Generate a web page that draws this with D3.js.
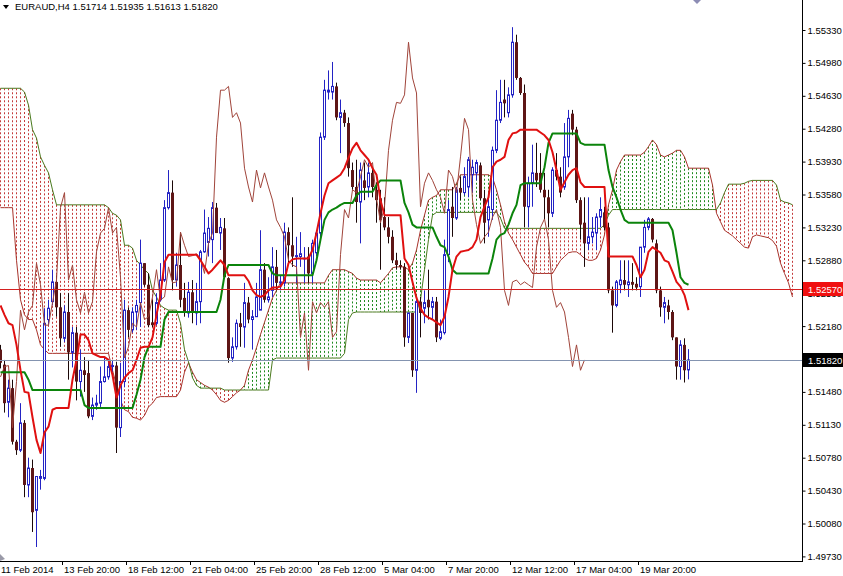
<!DOCTYPE html>
<html><head><meta charset="utf-8">
<script src="https://cdn.jsdelivr.net/npm/d3@7"></script>
<style>
html,body{margin:0;padding:0;background:#fff;}
svg{display:block;}
text{font-family:"Liberation Sans",Arial,sans-serif;}
</style></head><body>
<svg id="c" width="843" height="576"></svg>
<script>
// ---------------- DATA ----------------
const symbolName = "EURAUD,H4";
const lastQuote = [1.51714, 1.51935, 1.51613, 1.51820];

const opens = [1.5193,1.5177,1.5137,1.5152,1.5095,1.5086,1.5115,1.5049,1.5067,1.5022,
1.5056,1.5056,1.5225,1.5244,1.5265,1.5238,1.5205,1.5233,1.5190,1.5211,
1.5159,1.5171,1.5168,1.5122,1.5134,1.5136,1.5159,1.5164,1.5175,1.5176,
1.5110,1.5159,1.5235,1.5214,1.5233,1.5243,1.5285,1.5262,1.5222,1.5221,
1.5246,1.5267,1.5344,1.5360,1.5267,1.5283,1.5248,1.5232,1.5254,1.5232,
1.5244,1.5297,1.5307,1.5310,1.5344,1.5317,1.5322,1.5269,1.5184,1.5196,
1.5221,1.5217,1.5243,1.5225,1.5228,1.5235,1.5278,1.5246,1.5256,1.5281,
1.5264,1.5264,1.5318,1.5304,1.5292,1.5292,1.5290,1.5292,1.5274,1.5296,
1.5317,1.5419,1.5467,1.5467,1.5473,1.5440,1.5445,1.5434,1.5384,1.5366,
1.5350,1.5373,1.5366,1.5381,1.5363,1.5354,1.5334,1.5323,1.5313,1.5288,
1.5283,1.5281,1.5206,1.5232,1.5171,1.5244,1.5237,1.5246,1.5238,1.5244,
1.5205,1.5211,1.5294,1.5345,1.5333,1.5365,1.5360,1.5366,1.5379,1.5381,
1.5389,1.5354,1.5331,1.5342,1.5405,1.5437,1.5459,1.5445,1.5464,1.5520,
1.5482,1.5466,1.5345,1.5370,1.5381,1.5381,1.5363,1.5355,1.5338,1.5384,
1.5377,1.5366,1.5398,1.5444,1.5427,1.5352,1.5328,1.5306,1.5313,1.5317,
1.5334,1.5339,1.5323,1.5256,1.5240,1.5262,1.5267,1.5262,1.5265,1.5263,
1.5260,1.5302,1.5323,1.5332,1.5306,1.5256,1.5238,1.5240,1.5233,1.5206,
1.5175,1.5198,1.51714];

const highs = [1.5198,1.5182,1.5161,1.5161,1.5097,1.5136,1.5118,1.5078,1.5076,1.5058,
1.5065,1.5237,1.5246,1.5278,1.5272,1.5253,1.5240,1.5253,1.5217,1.5217,
1.5193,1.5185,1.5182,1.5142,1.5145,1.5175,1.5185,1.5182,1.5182,1.5180,
1.5179,1.5246,1.5238,1.5238,1.5246,1.5310,1.5285,1.5274,1.5246,1.5253,
1.5285,1.5352,1.5384,1.5373,1.5296,1.5318,1.5264,1.5265,1.5267,1.5264,
1.5299,1.5342,1.5334,1.5350,1.5349,1.5333,1.5333,1.5270,1.5206,1.5225,
1.5232,1.5264,1.5249,1.5235,1.5264,1.5320,1.5285,1.5270,1.5302,1.5299,
1.5272,1.5328,1.5323,1.5355,1.5313,1.5318,1.5302,1.5302,1.5310,1.5320,
1.5424,1.5480,1.5490,1.5499,1.5477,1.5459,1.5448,1.5440,1.5392,1.5395,
1.5392,1.5392,1.5392,1.5387,1.5371,1.5363,1.5355,1.5334,1.5320,1.5296,
1.5288,1.5285,1.5232,1.5232,1.5246,1.5249,1.5256,1.5278,1.5249,1.5249,
1.5225,1.5310,1.5352,1.5366,1.5366,1.5377,1.5387,1.5398,1.5395,1.5395,
1.5392,1.5363,1.5360,1.5409,1.5469,1.5480,1.5480,1.5472,1.5536,1.5528,
1.5483,1.5475,1.5377,1.5411,1.5413,1.5402,1.5381,1.5363,1.5387,1.5402,
1.5387,1.5434,1.5448,1.5448,1.5430,1.5355,1.5355,1.5355,1.5334,1.5338,
1.5355,1.5345,1.5328,1.5260,1.5267,1.5288,1.5288,1.5288,1.5285,1.5270,
1.5302,1.5331,1.5334,1.5333,1.5310,1.5260,1.5249,1.5246,1.5235,1.5206,
1.5203,1.5205,1.51935];

const lows = [1.5173,1.5126,1.5121,1.5092,1.5081,1.5084,1.5036,1.5036,1.4999,1.4983,
1.5044,1.5054,1.5219,1.5240,1.5228,1.5196,1.5201,1.5161,1.5174,1.5139,
1.5143,1.5148,1.5120,1.5118,1.5129,1.5132,1.5158,1.5161,1.5169,1.5083,
1.5100,1.5153,1.5206,1.5211,1.5214,1.5217,1.5260,1.5217,1.5217,1.5219,
1.5244,1.5265,1.5342,1.5256,1.5260,1.5238,1.5228,1.5227,1.5221,1.5219,
1.5221,1.5296,1.5292,1.5285,1.5317,1.5299,1.5269,1.5179,1.5180,1.5193,
1.5196,1.5195,1.5221,1.5193,1.5228,1.5235,1.5243,1.5243,1.5249,1.5256,
1.5256,1.5260,1.5285,1.5281,1.5264,1.5281,1.5264,1.5264,1.5264,1.5292,
1.5310,1.5416,1.5459,1.5459,1.5437,1.5402,1.5430,1.5377,1.5363,1.5328,
1.5306,1.5352,1.5355,1.5355,1.5328,1.5278,1.5320,1.5306,1.5285,1.5278,
1.5278,1.5196,1.5200,1.5164,1.5147,1.5206,1.5221,1.5225,1.5225,1.5201,
1.5203,1.5209,1.5286,1.5313,1.5331,1.5352,1.5357,1.5355,1.5360,1.5373,
1.5352,1.5306,1.5313,1.5331,1.5402,1.5434,1.5440,1.5440,1.5461,1.5480,
1.5464,1.5323,1.5323,1.5345,1.5366,1.5360,1.5331,1.5323,1.5334,1.5373,
1.5355,1.5363,1.5387,1.5421,1.5349,1.5310,1.5281,1.5299,1.5306,1.5299,
1.5323,1.5320,1.5253,1.5211,1.5238,1.5253,1.5256,1.5249,1.5256,1.5256,
1.5249,1.5296,1.5320,1.5307,1.5253,1.5228,1.5221,1.5225,1.5203,1.5161,
1.5161,1.5158,1.51613];

const closes = [1.5179,1.5136,1.5152,1.5095,1.5086,1.5115,1.5049,1.5067,1.5020,1.5058,
1.5058,1.5221,1.5237,1.5265,1.5238,1.5205,1.5233,1.5190,1.5211,1.5159,
1.5171,1.5166,1.5122,1.5134,1.5136,1.5159,1.5164,1.5175,1.5176,1.5110,
1.5159,1.5235,1.5214,1.5233,1.5240,1.5285,1.5262,1.5219,1.5219,1.5243,
1.5267,1.5344,1.5360,1.5267,1.5283,1.5246,1.5232,1.5254,1.5232,1.5244,
1.5297,1.5317,1.5322,1.5344,1.5317,1.5323,1.5270,1.5184,1.5196,1.5221,
1.5217,1.5243,1.5225,1.5228,1.5249,1.5278,1.5246,1.5249,1.5281,1.5264,
1.5265,1.5318,1.5304,1.5292,1.5293,1.5295,1.5290,1.5274,1.5306,1.5317,
1.5419,1.5469,1.5469,1.5473,1.5440,1.5445,1.5434,1.5386,1.5366,1.5350,
1.5384,1.5365,1.5381,1.5366,1.5352,1.5331,1.5323,1.5313,1.5288,1.5283,
1.5281,1.5206,1.5232,1.5171,1.5244,1.5232,1.5243,1.5238,1.5244,1.5206,
1.5212,1.5294,1.5342,1.5333,1.5363,1.5360,1.5377,1.5395,1.5387,1.5392,
1.5354,1.5328,1.5345,1.5405,1.5437,1.5456,1.5455,1.5464,1.5520,1.5482,
1.5466,1.5345,1.5370,1.5381,1.5373,1.5363,1.5355,1.5338,1.5384,1.5377,
1.5360,1.5398,1.5439,1.5427,1.5352,1.5326,1.5306,1.5313,1.5318,1.5334,
1.5342,1.5323,1.5256,1.5240,1.5265,1.5267,1.5262,1.5265,1.5262,1.5259,
1.5302,1.5323,1.5332,1.5310,1.5256,1.5238,1.5243,1.5233,1.5206,1.5175,
1.5198,1.5171,1.5182];

// Ichimoku Tenkan-sen (red) per bar
const tenkan = [1.5240,1.5230,1.5221,1.5219,1.5198,1.5171,1.5148,1.5147,1.5121,1.5097,
1.5083,1.5105,1.5111,1.5129,1.5131,1.5131,1.5131,1.5131,1.5161,1.5182,
1.5209,1.5209,1.5203,1.5189,1.5187,1.5185,1.5185,1.5182,1.5166,1.5142,
1.5155,1.5163,1.5168,1.5171,1.5182,1.5195,1.5196,1.5196,1.5206,1.5230,
1.5251,1.5286,1.5294,1.5294,1.5294,1.5294,1.5294,1.5294,1.5294,1.5294,
1.5288,1.5281,1.5274,1.5278,1.5283,1.5288,1.5283,1.5272,1.5272,1.5272,
1.5272,1.5272,1.5266,1.5256,1.5251,1.5249,1.5251,1.5256,1.5259,1.5259,
1.5260,1.5267,1.5285,1.5289,1.5290,1.5290,1.5290,1.5290,1.5299,1.5317,
1.5338,1.5357,1.5370,1.5373,1.5376,1.5379,1.5386,1.5397,1.5407,1.5413,
1.5405,1.5400,1.5395,1.5386,1.5379,1.5352,1.5336,1.5336,1.5336,1.5336,
1.5336,1.5290,1.5283,1.5265,1.5248,1.5237,1.5230,1.5227,1.5225,1.5222,
1.5219,1.5228,1.5249,1.5278,1.5292,1.5297,1.5298,1.5299,1.5302,1.5310,
1.5334,1.5345,1.5355,1.5387,1.5393,1.5395,1.5398,1.5416,1.5423,1.5424,
1.5427,1.5427,1.5427,1.5427,1.5427,1.5424,1.5421,1.5416,1.5403,1.5384,
1.5363,1.5371,1.5379,1.5384,1.5386,1.5371,1.5366,1.5366,1.5366,1.5366,
1.5366,1.5366,1.5292,1.5292,1.5292,1.5292,1.5292,1.5292,1.5292,1.5283,
1.5270,1.5278,1.5297,1.5302,1.5299,1.5296,1.5288,1.5286,1.5276,1.5265,
1.5260,1.5251,1.5235];

// Ichimoku Kijun-sen (green) per bar
const kijun = [1.5169,1.5169,1.5169,1.5169,1.5169,1.5169,1.5169,1.5161,1.5150,1.5150,
1.5150,1.5150,1.5150,1.5150,1.5150,1.5150,1.5150,1.5150,1.5150,1.5150,
1.5150,1.5134,1.5131,1.5131,1.5131,1.5131,1.5131,1.5131,1.5131,1.5131,
1.5131,1.5131,1.5131,1.5131,1.5145,1.5161,1.5185,1.5196,1.5196,1.5196,
1.5196,1.5225,1.5233,1.5233,1.5233,1.5233,1.5233,1.5233,1.5233,1.5233,
1.5233,1.5233,1.5233,1.5233,1.5233,1.5246,1.5272,1.5283,1.5283,1.5283,
1.5283,1.5283,1.5283,1.5283,1.5283,1.5283,1.5283,1.5283,1.5274,1.5272,
1.5272,1.5272,1.5272,1.5272,1.5272,1.5272,1.5272,1.5272,1.5272,1.5288,
1.5310,1.5331,1.5339,1.5342,1.5344,1.5347,1.5349,1.5349,1.5349,1.5357,
1.5361,1.5361,1.5361,1.5361,1.5368,1.5373,1.5373,1.5373,1.5373,1.5373,
1.5373,1.5349,1.5339,1.5326,1.5323,1.5323,1.5323,1.5323,1.5323,1.5313,
1.5304,1.5302,1.5292,1.5278,1.5274,1.5274,1.5274,1.5274,1.5274,1.5274,
1.5274,1.5274,1.5274,1.5290,1.5310,1.5315,1.5317,1.5326,1.5338,1.5347,
1.5368,1.5370,1.5370,1.5370,1.5370,1.5370,1.5387,1.5413,1.5423,1.5423,
1.5423,1.5423,1.5423,1.5423,1.5423,1.5413,1.5411,1.5411,1.5411,1.5411,
1.5411,1.5411,1.5384,1.5366,1.5355,1.5342,1.5331,1.5328,1.5328,1.5328,
1.5328,1.5328,1.5328,1.5328,1.5328,1.5328,1.5328,1.5328,1.5320,1.5296,
1.5270,1.5264,1.5262];

// Senkou Span A (red-brown line), plotted 26 bars ahead (bars 0..198)
const senkouA = [1.5344,1.5344,1.5344,1.5344,1.5288,1.5246,1.5230,1.5225,1.5225,1.5214,
1.5198,1.5193,1.5189,1.5189,1.5189,1.5189,1.5189,1.5189,1.5189,1.5189,
1.5189,1.5189,1.5189,1.5189,1.5189,1.5189,1.5189,1.5189,1.5171,1.5155,
1.5139,1.5129,1.5127,1.5121,1.5120,1.5118,1.5123,1.5132,1.5136,1.5142,
1.5143,1.5143,1.5143,1.5143,1.5143,1.5150,1.5169,1.5179,1.5169,1.5161,
1.5158,1.5155,1.5153,1.5150,1.5145,1.5139,1.5137,1.5139,1.5143,1.5147,
1.5150,1.5155,1.5171,1.5182,1.5195,1.5209,1.5222,1.5235,1.5248,1.5256,
1.5264,1.5264,1.5264,1.5264,1.5264,1.5264,1.5264,1.5264,1.5264,1.5264,
1.5264,1.5264,1.5272,1.5278,1.5278,1.5278,1.5278,1.5276,1.5274,1.5269,
1.5267,1.5267,1.5267,1.5267,1.5267,1.5264,1.5269,1.5274,1.5280,1.5281,
1.5281,1.5281,1.5278,1.5285,1.5299,1.5320,1.5336,1.5352,1.5355,1.5357,
1.5363,1.5363,1.5363,1.5363,1.5370,1.5379,1.5379,1.5379,1.5379,1.5379,
1.5379,1.5379,1.5379,1.5376,1.5363,1.5347,1.5329,1.5317,1.5310,1.5302,
1.5294,1.5286,1.5281,1.5274,1.5274,1.5274,1.5274,1.5274,1.5274,1.5281,
1.5288,1.5292,1.5296,1.5297,1.5297,1.5294,1.5290,1.5288,1.5288,1.5290,
1.5299,1.5315,1.5347,1.5363,1.5384,1.5393,1.5400,1.5400,1.5400,1.5400,
1.5400,1.5403,1.5409,1.5416,1.5411,1.5400,1.5398,1.5400,1.5402,1.5405,
1.5405,1.5398,1.5386,1.5386,1.5386,1.5386,1.5386,1.5386,1.5368,1.5338,
1.5329,1.5320,1.5317,1.5314,1.5310,1.5306,1.5302,1.5301,1.5313,1.5315,
1.5314,1.5313,1.5312,1.5309,1.5303,1.5285,1.5274,1.5264,1.5249];

// Senkou Span B (green line), plotted 26 bars ahead (bars 0..198)
const senkouB = [1.5471,1.5471,1.5471,1.5471,1.5471,1.5471,1.5467,1.5453,1.5427,1.5418,
1.5398,1.5389,1.5381,1.5363,1.5347,1.5347,1.5347,1.5347,1.5347,1.5347,
1.5347,1.5347,1.5347,1.5347,1.5347,1.5347,1.5347,1.5344,1.5338,1.5336,
1.5331,1.5304,1.5304,1.5301,1.5288,1.5283,1.5278,1.5274,1.5256,1.5249,
1.5240,1.5237,1.5235,1.5235,1.5235,1.5221,1.5193,1.5180,1.5163,1.5155,
1.5152,1.5152,1.5152,1.5152,1.5152,1.5152,1.5150,1.5150,1.5150,1.5150,
1.5150,1.5150,1.5150,1.5150,1.5150,1.5150,1.5150,1.5150,1.5182,1.5184,
1.5184,1.5184,1.5184,1.5184,1.5184,1.5184,1.5184,1.5184,1.5184,1.5184,
1.5184,1.5184,1.5184,1.5184,1.5184,1.5184,1.5189,1.5225,1.5232,1.5233,
1.5233,1.5233,1.5233,1.5233,1.5233,1.5233,1.5233,1.5233,1.5233,1.5233,
1.5233,1.5233,1.5233,1.5233,1.5233,1.5246,1.5278,1.5310,1.5336,1.5339,
1.5339,1.5339,1.5339,1.5339,1.5339,1.5339,1.5339,1.5339,1.5339,1.5339,
1.5339,1.5339,1.5339,1.5339,1.5339,1.5333,1.5322,1.5322,1.5322,1.5322,
1.5322,1.5322,1.5322,1.5322,1.5322,1.5322,1.5322,1.5322,1.5322,1.5322,
1.5322,1.5322,1.5322,1.5322,1.5322,1.5322,1.5322,1.5322,1.5322,1.5322,
1.5322,1.5326,1.5336,1.5342,1.5342,1.5342,1.5342,1.5342,1.5342,1.5342,
1.5342,1.5342,1.5342,1.5342,1.5342,1.5342,1.5342,1.5342,1.5342,1.5342,
1.5342,1.5342,1.5342,1.5342,1.5342,1.5342,1.5342,1.5342,1.5342,1.5342,
1.5349,1.5360,1.5369,1.5369,1.5369,1.5369,1.5370,1.5372,1.5373,1.5373,
1.5373,1.5373,1.5373,1.5373,1.5368,1.5352,1.5350,1.5349,1.5347];

const chikouShift = 26;
const priceTicks = [1.55330,1.54980,1.54630,1.54280,1.53930,1.53580,1.53230,1.52880,1.52530,
1.52180,1.51830,1.51480,1.51130,1.50780,1.50430,1.50080,1.49730];
const dateLabels = ["11 Feb 2014","13 Feb 20:00","18 Feb 12:00","21 Feb 04:00","25 Feb 20:00",
"28 Feb 12:00","5 Mar 04:00","7 Mar 20:00","12 Mar 12:00","17 Mar 04:00","19 Mar 20:00"];
const dateLabelBars = [0,16,32,48,64,80,96,112,128,144,160];
const levelLine = 1.52570;
const bidLine = 1.51820;

// ---------------- DRAW ----------------
const svg = d3.select("#c");
const plotRight = 802, plotBottom = 561;
const x = d3.scaleLinear().domain([0, 200]).range([0, 800]);
const y = d3.scaleLinear().domain([1.4973, 1.5533]).range([556.4, 30]);
const px = i => Math.round(x(i));

const C = {
  bullStroke: "#2323c4", bearFill: "#5e1616", bearWick: "#1b0808",
  tenkan: "#e01010", kijun: "#0b840b", chikou: "#a0443a",
  cloudRed: "#c43a3a", cloudGreen: "#1f8a1f", spanA: "#a8332b", spanB: "#4a7a1e"
};

const plot = svg.append("g");

// cloud (dotted histogram between span A and span B)
const cloudData = senkouA.map((a, i) => ({i, a, b: senkouB[i]}));
plot.append("g").selectAll("line").data(cloudData).join("line")
  .attr("x1", d => px(d.i) + 0.5).attr("x2", d => px(d.i) + 0.5)
  .attr("y1", d => y(Math.max(d.a, d.b))).attr("y2", d => y(Math.min(d.a, d.b)))
  .attr("stroke", d => d.a >= d.b ? C.cloudGreen : C.cloudRed)
  .attr("stroke-width", 1).attr("stroke-dasharray", "2,2");

// span lines
const spanLine = d3.line().x((d, i) => px(i) + 0.5).y(d => y(d));
plot.append("path").attr("d", spanLine(senkouA)).attr("fill", "none")
  .attr("stroke", C.spanA).attr("stroke-width", 1);
plot.append("path").attr("d", spanLine(senkouB)).attr("fill", "none")
  .attr("stroke", C.spanB).attr("stroke-width", 1);

// candles
const bars = opens.map((o, i) => ({i, o, h: highs[i], l: lows[i], c: closes[i]}));
const cg = plot.append("g");
bars.forEach(d => {
  const cx = px(d.i);
  const bull = d.c >= d.o;
  cg.append("line").attr("x1", cx + 0.5).attr("x2", cx + 0.5)
    .attr("y1", y(d.h)).attr("y2", y(d.l))
    .attr("stroke", bull ? C.bullStroke : C.bearWick).attr("stroke-width", 1);
  const top = y(Math.max(d.o, d.c)), bot = y(Math.min(d.o, d.c));
  if (bull) {
    cg.append("rect").attr("x", cx - 0.5).attr("y", top)
      .attr("width", 2).attr("height", Math.max(bot - top, 0.5))
      .attr("fill", "#fff").attr("stroke", C.bullStroke).attr("stroke-width", 1);
  } else {
    cg.append("rect").attr("x", cx - 1).attr("y", top)
      .attr("width", 3).attr("height", Math.max(bot - top, 1))
      .attr("fill", C.bearFill);
  }
});

// chikou span (closes shifted back)
const chikouLine = d3.line().x((d, k) => px(k) + 0.5).y(d => y(d));
plot.append("path").attr("d", chikouLine(closes.slice(chikouShift))).attr("fill", "none")
  .attr("stroke", C.chikou).attr("stroke-width", 1);

// tenkan / kijun
const thick = d3.line().x((d, i) => px(i) + 0.5).y(d => y(d));
plot.append("path").attr("d", thick(kijun)).attr("fill", "none")
  .attr("stroke", C.kijun).attr("stroke-width", 2).attr("stroke-linejoin", "round");
plot.append("path").attr("d", thick(tenkan)).attr("fill", "none")
  .attr("stroke", C.tenkan).attr("stroke-width", 2).attr("stroke-linejoin", "round");

// horizontal lines
svg.append("line").attr("x1", 0).attr("x2", plotRight)
  .attr("y1", Math.round(y(levelLine)) + 0.5).attr("y2", Math.round(y(levelLine)) + 0.5)
  .attr("stroke", "#d42020").attr("stroke-width", 1);
svg.append("line").attr("x1", 0).attr("x2", plotRight)
  .attr("y1", Math.round(y(bidLine)) + 0.5).attr("y2", Math.round(y(bidLine)) + 0.5)
  .attr("stroke", "#8494b0").attr("stroke-width", 1);

// axes frame
svg.append("line").attr("x1", plotRight + 0.5).attr("x2", plotRight + 0.5)
  .attr("y1", 0).attr("y2", plotBottom + 1).attr("stroke", "#000");
svg.append("line").attr("x1", 0).attr("x2", plotRight + 1)
  .attr("y1", plotBottom + 0.5).attr("y2", plotBottom + 0.5).attr("stroke", "#000");

// right price axis
const yAxis = d3.axisRight(y).tickValues(priceTicks).tickFormat(d3.format(".5f"))
  .tickSize(3).tickPadding(2);
const ya = svg.append("g").attr("transform", `translate(${plotRight + 0.5},0)`).call(yAxis);
ya.select(".domain").remove();
ya.selectAll("line").attr("stroke", "#000");
ya.selectAll("text").attr("font-size", 9.5).attr("fill", "#000")
  .attr("font-family", "'Liberation Sans',Arial,sans-serif");

// price labels
function priceTag(v, bg) {
  const yy = Math.round(y(v));
  svg.append("rect").attr("x", plotRight + 1).attr("y", yy - 7).attr("width", 40).attr("height", 14)
    .attr("fill", bg);
  svg.append("text").attr("x", plotRight + 6).attr("y", yy + 3.5).attr("fill", "#fff")
    .attr("font-size", 9.5).text(d3.format(".5f")(v));
}
priceTag(levelLine, "#f01010");
priceTag(bidLine, "#000");

// bottom date axis
const dg = svg.append("g");
dateLabelBars.forEach((b, k) => {
  const tx = px(b) - 2;
  if (k > 0) dg.append("line").attr("x1", tx + 0.5).attr("x2", tx + 0.5)
    .attr("y1", plotBottom).attr("y2", plotBottom + 4).attr("stroke", "#000");
  dg.append("text").attr("x", k === 0 ? 1 : tx + 2).attr("y", 573)
    .attr("font-size", 9.5).attr("fill", "#000").text(dateLabels[k]);
});

// header
svg.append("path").attr("d", "M3,5 L9,5 L6,9 Z").attr("fill", "#000");
svg.append("text").attr("x", 15).attr("y", 10).attr("font-size", 9.5).attr("fill", "#000")
  .text(symbolName + "  " + lastQuote.map(d3.format(".5f")).join(" "));

// small markers
svg.append("path").attr("d", "M693,0 L701,0 L697,4 Z").attr("fill", "#8c8cb4");
svg.append("path").attr("d", "M0,554 L5,559 L0,561 Z").attr("fill", "#9a9aa8");
</script>
</body></html>
